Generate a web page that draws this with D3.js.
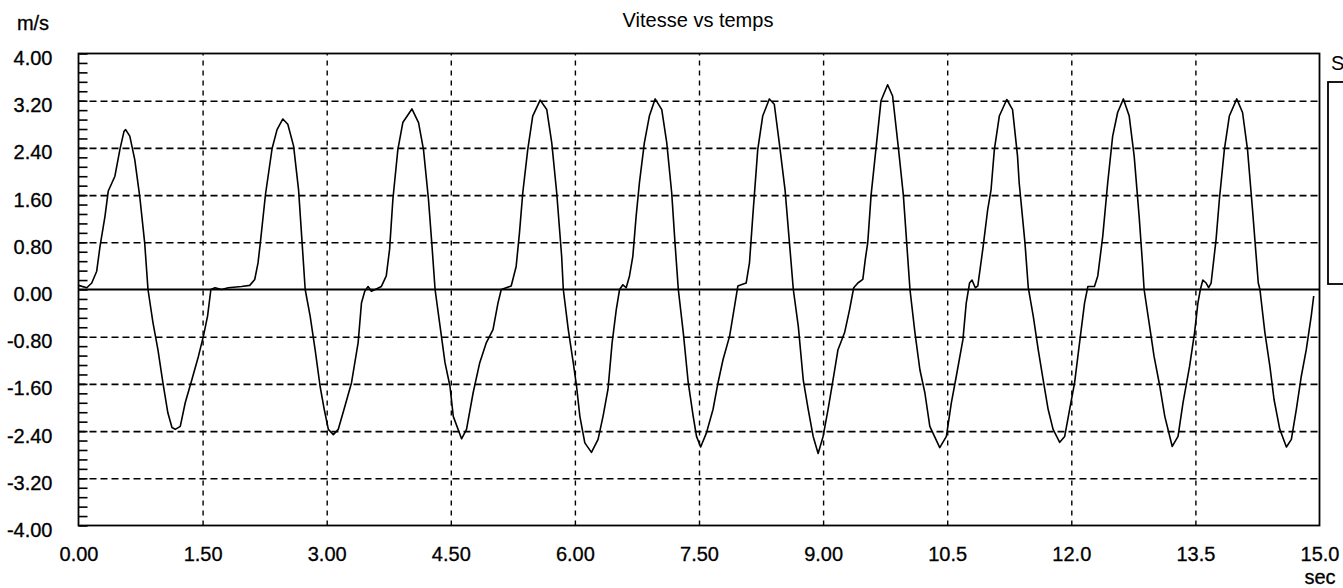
<!DOCTYPE html>
<html>
<head>
<meta charset="utf-8">
<script src="https://cdn.jsdelivr.net/npm/d3@7"></script>
<style>
  html, body { margin: 0; padding: 0; background: #fff; overflow: hidden; }
  svg { display: block; }
  text { font-family: "Liberation Sans", Arial, sans-serif; fill: #000; }
</style>
</head>
<body>
<svg id="chart" width="1343" height="588"></svg>
<script>
// ---- data ----
const chartTitle = "Vitesse vs temps";
const yUnit = "m/s";
const xUnit = "sec";
const legendLabel = "S";

const xTickValues = [0, 1.5, 3, 4.5, 6, 7.5, 9, 10.5, 12, 13.5, 15];
const xTickLabels = ["0.00", "1.50", "3.00", "4.50", "6.00", "7.50", "9.00", "10.5", "12.0", "13.5", "15.0"];
const yTickValues = [4, 3.2, 2.4, 1.6, 0.8, 0, -0.8, -1.6, -2.4, -3.2, -4];
const yTickLabels = ["4.00", "3.20", "2.40", "1.60", "0.80", "0.00", "-0.80", "-1.60", "-2.40", "-3.20", "-4.00"];

// time (s)
const time = [
  0.00, 0.10, 0.16, 0.22, 0.26, 0.32, 0.36, 0.44, 0.50, 0.55, 0.57, 0.62, 0.68, 0.74, 0.80, 0.84,
  0.90, 0.96, 1.02, 1.08, 1.13, 1.17, 1.23, 1.29, 1.37, 1.45, 1.51, 1.56, 1.60, 1.65, 1.73, 1.81,
  1.97, 2.07, 2.13, 2.17, 2.20, 2.26, 2.34, 2.40, 2.47, 2.53, 2.60, 2.66, 2.70, 2.74,
  2.80, 2.86, 2.92, 2.97, 3.02, 3.08, 3.14, 3.22, 3.30, 3.38, 3.42, 3.46, 3.50, 3.54, 3.60, 3.66,
  3.72, 3.76, 3.80, 3.86, 3.92, 4.03, 4.11, 4.17, 4.23, 4.27, 4.31,
  4.37, 4.43, 4.49, 4.53, 4.63, 4.69, 4.77, 4.85, 4.93, 5.01, 5.07, 5.11, 5.17, 5.23,
  5.29, 5.33, 5.37, 5.43, 5.49, 5.58, 5.66, 5.72, 5.78, 5.84, 5.86,
  5.92, 5.98, 6.02, 6.06, 6.12, 6.20, 6.28, 6.34, 6.40, 6.45, 6.50, 6.54, 6.58, 6.62,
  6.66, 6.70, 6.74, 6.78, 6.84, 6.90, 6.97, 7.05, 7.11, 7.17, 7.21, 7.25,
  7.31, 7.37, 7.43, 7.47, 7.52, 7.59, 7.67, 7.73, 7.79, 7.87, 7.93, 7.97, 8.01, 8.07,
  8.11, 8.15, 8.21, 8.27, 8.35, 8.41, 8.47, 8.54, 8.60, 8.64,
  8.70, 8.76, 8.82, 8.88, 8.94, 9.00, 9.06, 9.12, 9.18, 9.26, 9.32, 9.37, 9.42, 9.48,
  9.51, 9.54, 9.58, 9.64, 9.70, 9.78, 9.84, 9.91, 9.97, 10.01, 10.05,
  10.11, 10.17, 10.23, 10.29, 10.41, 10.49, 10.55, 10.61, 10.69, 10.73, 10.77, 10.80, 10.84, 10.87,
  10.93, 10.99, 11.03, 11.07, 11.13, 11.22, 11.29, 11.35, 11.37, 11.44, 11.48,
  11.54, 11.60, 11.66, 11.72, 11.78, 11.86, 11.92, 11.98, 12.04, 12.10, 12.16, 12.20, 12.28,
  12.32, 12.38, 12.44, 12.50, 12.56, 12.63, 12.70, 12.76, 12.82, 12.86, 12.88,
  12.94, 13.00, 13.07, 13.13, 13.22, 13.29, 13.35, 13.43, 13.49, 13.53, 13.56, 13.59, 13.63, 13.66, 13.69,
  13.75, 13.79, 13.85, 13.91, 14.00, 14.07, 14.13, 14.19, 14.26, 14.28,
  14.34, 14.40, 14.45, 14.52, 14.60, 14.66, 14.72, 14.78, 14.84, 14.90, 14.93
];
// speed (m/s)
const speed = [
  0.07, 0.03, 0.11, 0.31, 0.73, 1.24, 1.67, 1.92, 2.37, 2.68, 2.71, 2.60, 2.20, 1.58, 0.79, 0.00,
  -0.56, -1.02, -1.58, -2.09, -2.34, -2.37, -2.32, -1.92, -1.53, -1.13, -0.79, -0.45, 0.00, 0.03, 0.00, 0.03,
  0.05, 0.07, 0.17, 0.45, 0.82, 1.61, 2.39, 2.71, 2.89, 2.80, 2.43, 1.69, 0.85, 0.00,
  -0.45, -1.02, -1.64, -2.03, -2.37, -2.46, -2.37, -1.98, -1.58, -0.90, -0.23, -0.03, 0.05, -0.03, 0.01, 0.05,
  0.23, 0.68, 1.53, 2.37, 2.83, 3.06, 2.83, 2.37, 1.53, 0.79, 0.00,
  -0.62, -1.24, -1.64, -2.15, -2.53, -2.37, -1.75, -1.24, -0.90, -0.68, -0.23, 0.00, 0.03, 0.06,
  0.39, 0.96, 1.64, 2.37, 2.94, 3.21, 3.05, 2.49, 1.64, 0.56, 0.00,
  -0.68, -1.24, -1.64, -2.15, -2.60, -2.76, -2.54, -2.15, -1.69, -0.90, -0.34, 0.00, 0.08, 0.03,
  0.23, 0.56, 1.24, 1.81, 2.49, 2.94, 3.23, 3.05, 2.49, 1.64, 0.79, 0.00,
  -0.73, -1.58, -2.15, -2.49, -2.67, -2.43, -2.03, -1.58, -1.19, -0.79, -0.28, 0.06, 0.08, 0.11,
  0.45, 1.24, 2.37, 2.94, 3.23, 3.14, 2.49, 1.69, 0.68, 0.00,
  -0.62, -1.53, -2.03, -2.49, -2.78, -2.49, -2.03, -1.53, -1.02, -0.73, -0.34, 0.03, 0.11, 0.17,
  0.51, 0.80, 1.60, 2.40, 3.20, 3.47, 3.28, 2.40, 1.60, 0.80, 0.00,
  -0.73, -1.36, -1.75, -2.32, -2.68, -2.49, -1.92, -1.47, -0.85, -0.23, 0.11, 0.16, 0.03, 0.06,
  0.68, 1.36, 1.69, 2.37, 2.94, 3.22, 3.05, 2.26, 1.81, 0.79, 0.03,
  -0.45, -1.02, -1.53, -2.03, -2.37, -2.59, -2.49, -2.03, -1.58, -0.90, -0.23, 0.05, 0.05,
  0.23, 0.90, 1.81, 2.60, 3.00, 3.23, 2.94, 2.26, 1.24, 0.45, 0.00,
  -0.56, -1.13, -1.64, -2.15, -2.66, -2.49, -1.92, -1.30, -0.73, -0.23, 0.00, 0.16, 0.11, 0.03, 0.11,
  0.85, 1.53, 2.37, 2.94, 3.23, 3.00, 2.37, 1.36, 0.11, 0.00,
  -0.73, -1.30, -1.86, -2.37, -2.67, -2.54, -2.03, -1.47, -1.02, -0.45, -0.11
];

// ---- layout ----
const svg = d3.select("#chart");
const plot = { left: 78.5, right: 1319.5, top: 53.5, bottom: 525.5 };
const fontStack = '"Liberation Sans", Arial, sans-serif';

const x = d3.scaleLinear().domain([0, 15]).range([plot.left, plot.right]);
const y = d3.scaleLinear().domain([-4, 4]).range([plot.bottom, plot.top]);

// horizontal dashed grid
svg.append("g")
  .attr("transform", `translate(${plot.left},0)`)
  .call(d3.axisLeft(y).tickValues(yTickValues.filter(v => v !== 0 && Math.abs(v) !== 4))
        .tickSize(-(plot.right - plot.left)).tickFormat(""))
  .call(g => g.select(".domain").remove())
  .call(g => g.selectAll(".tick line")
      .attr("stroke", "#000").attr("stroke-width", 1.6).attr("stroke-dasharray", "7,4"));

// vertical dashed grid
svg.append("g")
  .attr("transform", `translate(0,${plot.bottom})`)
  .call(d3.axisBottom(x).tickValues(xTickValues.filter(v => v > 0 && v < 15))
        .tickSize(-(plot.bottom - plot.top)).tickFormat(""))
  .call(g => g.select(".domain").remove())
  .call(g => g.selectAll(".tick line")
      .attr("stroke", "#000").attr("stroke-width", 1.4).attr("stroke-dasharray", "5,5"));

// y minor/major ticks inside left border
const minorY = d3.range(0, 51).map(i => -4 + i * 0.16);
svg.append("g")
  .attr("transform", `translate(${plot.left},0)`)
  .call(d3.axisLeft(y).tickValues(minorY).tickSize(-9).tickFormat(""))
  .call(g => g.select(".domain").remove())
  .call(g => g.selectAll(".tick line").attr("stroke", "#000").attr("stroke-width", 1.6));

// zero line
svg.append("line")
  .attr("x1", plot.left).attr("x2", plot.right)
  .attr("y1", y(0)).attr("y2", y(0))
  .attr("stroke", "#000").attr("stroke-width", 2);

// plot border
svg.append("rect")
  .attr("x", plot.left).attr("y", plot.top)
  .attr("width", plot.right - plot.left).attr("height", plot.bottom - plot.top)
  .attr("fill", "none").attr("stroke", "#000").attr("stroke-width", 1.8);

// y tick labels
svg.append("g")
  .attr("transform", `translate(${plot.left},0)`)
  .call(d3.axisLeft(y).tickValues(yTickValues).tickSize(0).tickPadding(26)
        .tickFormat((d, i) => yTickLabels[i]))
  .call(g => g.select(".domain").remove())
  .call(g => g.selectAll(".tick text")
      .attr("font-size", 20).attr("dy", 11).attr("fill", "#000")
      .attr("stroke", "#000").attr("stroke-width", 0.3)
      .style("font-family", fontStack));

// x tick labels
svg.append("g")
  .attr("transform", `translate(0,${plot.bottom})`)
  .call(d3.axisBottom(x).tickValues(xTickValues).tickSize(0).tickPadding(0)
        .tickFormat((d, i) => xTickLabels[i]))
  .call(g => g.select(".domain").remove())
  .call(g => g.selectAll(".tick text")
      .attr("font-size", 20).attr("y", 35).attr("dy", 0).attr("fill", "#000")
      .attr("stroke", "#000").attr("stroke-width", 0.3)
      .style("font-family", fontStack));

// data line
const pts = time.map((t, i) => [t, speed[i]]);
svg.append("path")
  .datum(pts)
  .attr("fill", "none")
  .attr("stroke", "#000")
  .attr("stroke-width", 1.6)
  .attr("stroke-linejoin", "round")
  .attr("d", d3.line().x(d => x(d[0])).y(d => y(d[1])));

// titles
svg.append("text").attr("x", 698).attr("y", 27).attr("text-anchor", "middle")
  .attr("font-size", 20).text(chartTitle);
svg.append("text").attr("x", 33).attr("y", 30).attr("text-anchor", "middle")
  .attr("font-size", 20).attr("stroke", "#000").attr("stroke-width", 0.3).text(yUnit);
svg.append("text").attr("x", 1320).attr("y", 584).attr("text-anchor", "middle")
  .attr("font-size", 20).attr("stroke", "#000").attr("stroke-width", 0.3).text(xUnit);

// legend (partly outside the picture, as in the reference)
svg.append("rect").attr("x", 1328).attr("y", 82).attr("width", 40).attr("height", 202)
  .attr("fill", "none").attr("stroke", "#000").attr("stroke-width", 1.8);
svg.append("text").attr("x", 1331).attr("y", 70).attr("font-size", 20).text(legendLabel);
</script>
</body>
</html>
